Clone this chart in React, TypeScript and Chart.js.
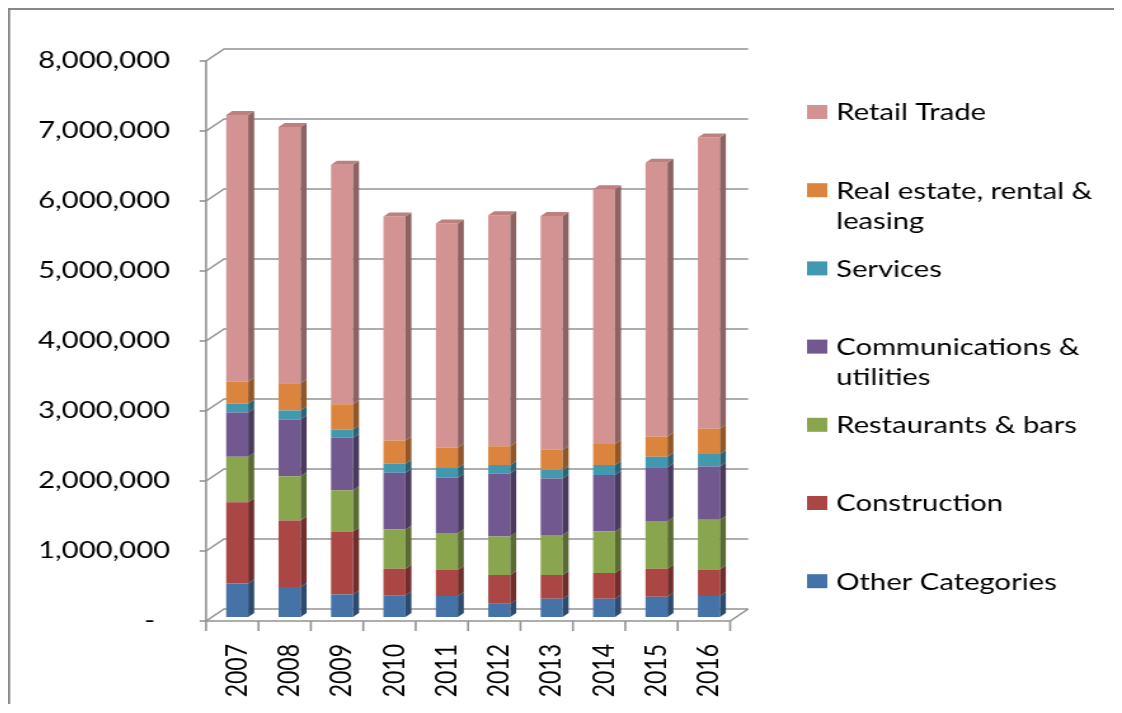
import { useEffect, useRef } from 'react';
import { Chart, registerables } from 'chart.js';

Chart.register(...registerables);

// ---------- data ----------
const years = ['2007', '2008', '2009', '2010', '2011', '2012', '2013', '2014', '2015', '2016'];

const otherCategories = [480000, 430000, 320000, 310000, 300000, 190000, 260000, 260000, 290000, 300000];
const construction = [1160000, 950000, 900000, 380000, 370000, 410000, 340000, 370000, 400000, 380000];
const restaurantsBars = [650000, 630000, 590000, 560000, 530000, 550000, 570000, 590000, 680000, 710000];
const communicationsUtilities = [630000, 810000, 750000, 810000, 790000, 900000, 810000, 810000, 770000, 760000];
const services = [130000, 130000, 120000, 130000, 140000, 120000, 120000, 140000, 150000, 180000];
const realEstate = [310000, 390000, 360000, 330000, 290000, 270000, 290000, 300000, 290000, 360000];
const retailTrade = [3810000, 3660000, 3420000, 3200000, 3200000, 3300000, 3340000, 3640000, 3910000, 4160000];

const seriesNames = [
  'Other Categories',
  'Construction',
  'Restaurants & bars',
  'Communications & utilities',
  'Services',
  'Real estate, rental & leasing',
  'Retail Trade',
];
const seriesValues = [
  otherCategories,
  construction,
  restaurantsBars,
  communicationsUtilities,
  services,
  realEstate,
  retailTrade,
];

const yMin = 0;
const yMax = 8000000;
const yStep = 1000000;

// ---------- styles ----------
const frontColors = ['#4572A7', '#AA4643', '#89A54E', '#71588F', '#4198AF', '#DB843D', '#D29392'];
const sideColors = ['#2D4A6F', '#712E2C', '#5A6C33', '#4A3A5E', '#2A6474', '#925728', '#8C6262'];
const topColors = ['#5A85B8', '#BB5A57', '#9AB560', '#8169A0', '#56A9C0', '#E49656', '#BE7F7F'];

// canvas is drawn at W x H and displayed stretched horizontally to CSS_W
const W = 877;
const H = 696;
const CSS_W = 1114;
const AREA = { left: 159.8, right: 572.4, top: 49, bottom: 609 };
const FRONT = { dx: -3.9, dy: 4 };
const BACK = { dx: 10.3, dy: -8 };
const BAR_D = { dx: 4.7, dy: -4 };
const GRID = '#939393';
const FONT = 'Lato';
const FONT_SIZE = 23;
const LEGEND = { swatchX: 629, swatchW: 16, swatchH: 14, textX: 652, top: 104, step: 78.2, lineH: 30, wrap: 222 };

const threeD = {
  id: 'threeD',
  beforeDatasetsDraw(chart: any) {
    const { ctx, chartArea: a, scales } = chart;
    const y = scales.y;
    ctx.save();
    // chart-area border (top & left)
    ctx.fillStyle = '#878787';
    ctx.fillRect(0, 0, chart.width, 2);
    ctx.fillRect(0, 0, 1.7, chart.height);

    ctx.strokeStyle = GRID;
    ctx.lineWidth = 1.6;
    const fx = a.left + FRONT.dx;
    const bx = a.left + BACK.dx;
    const bxr = a.right + BACK.dx;
    y.ticks.forEach((t: any) => {
      const py = y.getPixelForValue(t.value);
      ctx.beginPath();
      ctx.moveTo(fx, py + FRONT.dy);
      ctx.lineTo(bx, py + BACK.dy);
      ctx.lineTo(bxr, py + BACK.dy);
      ctx.stroke();
      ctx.beginPath();
      ctx.moveTo(fx - 5, py + FRONT.dy);
      ctx.lineTo(fx, py + FRONT.dy);
      ctx.stroke();
    });
    const y0 = y.getPixelForValue(yMin) + FRONT.dy;
    const yTop = y.getPixelForValue(yMax) + FRONT.dy;
    // front vertical axis
    ctx.beginPath();
    ctx.moveTo(fx, yTop);
    ctx.lineTo(fx, y0);
    ctx.stroke();
    // floor front edge and right diagonal
    const fxr = a.right + FRONT.dx;
    ctx.beginPath();
    ctx.moveTo(fx, y0);
    ctx.lineTo(fxr, y0);
    ctx.lineTo(bxr, y.getPixelForValue(yMin) + BACK.dy);
    ctx.stroke();
    // category tick marks
    const n = chart.data.labels.length;
    for (let i = 0; i <= n; i++) {
      const px = a.left + (i * (a.right - a.left)) / n + FRONT.dx;
      ctx.beginPath();
      ctx.moveTo(px, y0);
      ctx.lineTo(px, y0 + 10);
      ctx.stroke();
    }
    ctx.restore();
  },
  afterDatasetsDraw(chart: any) {
    const { ctx } = chart;
    const last = chart.data.datasets.length - 1;
    ctx.save();
    chart.data.datasets.forEach((_ds: any, di: number) => {
      const meta = chart.getDatasetMeta(di);
      meta.data.forEach((el: any) => {
        const { x, y, base, width } = el.getProps(['x', 'y', 'base', 'width'], true);
        const l = x - width / 2;
        const r = x + width / 2;
        const top = Math.min(y, base);
        const bot = Math.max(y, base);
        ctx.fillStyle = sideColors[di];
        ctx.beginPath();
        ctx.moveTo(r, top);
        ctx.lineTo(r + BAR_D.dx, top + BAR_D.dy);
        ctx.lineTo(r + BAR_D.dx, bot + BAR_D.dy);
        ctx.lineTo(r, bot);
        ctx.closePath();
        ctx.fill();
        if (di === last) {
          ctx.fillStyle = topColors[di];
          ctx.beginPath();
          ctx.moveTo(l, top);
          ctx.lineTo(l + BAR_D.dx, top + BAR_D.dy);
          ctx.lineTo(r + BAR_D.dx, top + BAR_D.dy);
          ctx.lineTo(r, top);
          ctx.closePath();
          ctx.fill();
        }
      });
    });
    ctx.restore();
  },
  afterDraw(chart: any) {
    const { ctx } = chart;
    ctx.save();
    ctx.font = `${FONT_SIZE}px ${FONT}`;
    ctx.textBaseline = 'middle';
    ctx.textAlign = 'left';
    const ds = chart.data.datasets;
    const order = ds.map((_d: any, i: number) => i).reverse();
    order.forEach((di: number, k: number) => {
      const yc = LEGEND.top + k * LEGEND.step;
      ctx.fillStyle = frontColors[di];
      ctx.fillRect(LEGEND.swatchX, yc - LEGEND.swatchH / 2, LEGEND.swatchW, LEGEND.swatchH);
      // wrap text
      const words = String(ds[di].label).split(' ');
      const lines: string[] = [];
      let cur = '';
      words.forEach((w) => {
        const test = cur ? cur + ' ' + w : w;
        if (ctx.measureText(test).width > LEGEND.wrap && cur) {
          lines.push(cur);
          cur = w;
        } else {
          cur = test;
        }
      });
      if (cur) lines.push(cur);
      ctx.fillStyle = '#000';
      lines.forEach((ln, li) => {
        ctx.fillText(ln, LEGEND.textX, yc + 1 + li * LEGEND.lineH);
      });
    });
    ctx.restore();
  },
};

export default function App() {
  const ref = useRef<HTMLCanvasElement>(null);
  useEffect(() => {
    if (!ref.current) return;
    document.documentElement.style.overflow = 'hidden';
    Chart.defaults.font.family = FONT;
    Chart.defaults.font.size = FONT_SIZE;
    Chart.defaults.color = '#000';
    const chart = new Chart(ref.current, {
      type: 'bar',
      data: {
        labels: years,
        datasets: seriesValues.map((vals, i) => ({
          label: seriesNames[i],
          data: vals,
          backgroundColor: frontColors[i],
          borderWidth: 0,
          barPercentage: 0.42,
          categoryPercentage: 1,
        })),
      },
      options: {
        animation: false,
        responsive: false,
        devicePixelRatio: 1,
        layout: { padding: { left: 0, top: AREA.top, right: W - AREA.right, bottom: 0 } },
        plugins: { legend: { display: false }, tooltip: { enabled: false } },
        scales: {
          x: {
            stacked: true,
            grid: { display: false, drawTicks: false },
            border: { display: false },
            ticks: { autoSkip: false, minRotation: 90, maxRotation: 90, padding: 27, color: '#000' },
            afterFit: (s: any) => {
              s.height = H - AREA.bottom;
            },
          },
          y: {
            stacked: true,
            min: yMin,
            max: yMax,
            grid: { display: false, drawTicks: false },
            border: { display: false },
            ticks: {
              stepSize: yStep,
              padding: 32.2,
              labelOffset: FRONT.dy,
              color: '#000',
              callback: (v: any) => (Number(v) === 0 ? '-  ' : Number(v).toLocaleString('en-US')),
            },
            afterFit: (s: any) => {
              s.width = AREA.left;
            },
          },
        },
      },
      plugins: [threeD],
    });
    return () => chart.destroy();
  }, []);
  return (
    <div style={{ width: CSS_W, height: H }}>
      <canvas ref={ref} width={W} height={H} style={{ display: 'block', width: CSS_W, height: H }} />
    </div>
  );
}
